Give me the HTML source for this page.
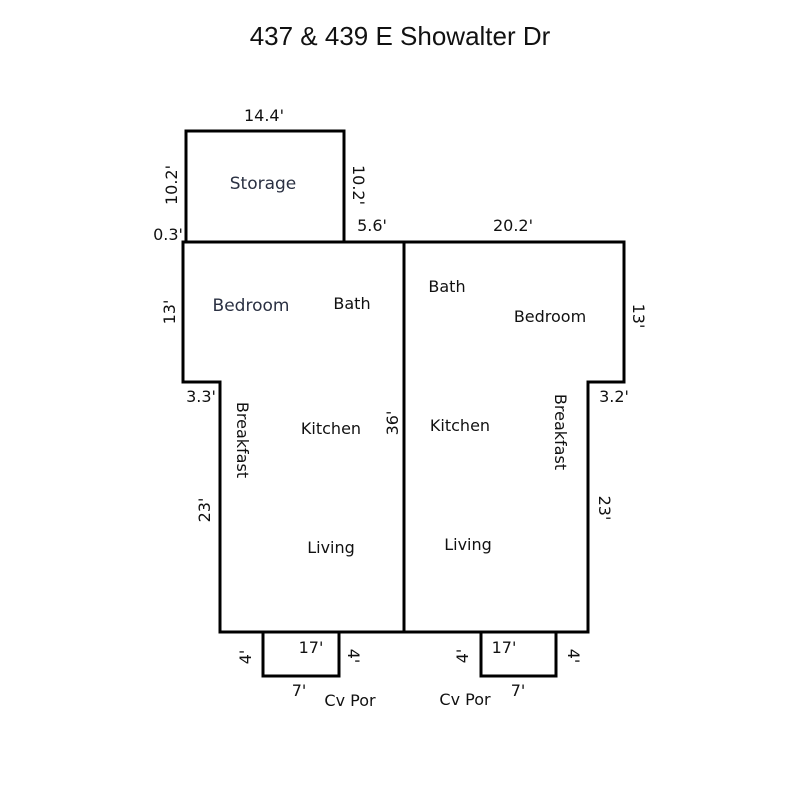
<!DOCTYPE html>
<html><head><style>body{margin:0;background:#fff}svg text{font-family:"DejaVu Sans","Liberation Sans",sans-serif;font-size:16px;fill:#111}</style></head>
<body>
<svg width="800" height="800" xmlns="http://www.w3.org/2000/svg">
<rect width="800" height="800" fill="#fff"/>
<text x="400" y="45" text-anchor="middle" style="font-family:'Liberation Sans',sans-serif;font-size:26px">437 &amp; 439 E Showalter Dr</text>
<g fill="none" stroke="#000" stroke-width="3">
<rect x="186" y="131" width="158" height="111"/>
<path d="M183 242 H624 V382 H588 V632 H220 V382 H183 Z"/>
<line x1="404" y1="242" x2="404" y2="632"/>
<path d="M263 632 V676 H339 V632"/>
<path d="M481 632 V676 H556 V632"/>
</g>
<g>
<text x="264" y="121" text-anchor="middle">14.4'</text>
<text x="263" y="189" text-anchor="middle" style="font-size:17px;fill:#2a3042">Storage</text>
<text x="168" y="240" text-anchor="middle">0.3'</text>
<text x="372" y="231" text-anchor="middle">5.6'</text>
<text x="513" y="231" text-anchor="middle">20.2'</text>
<text x="251" y="311" text-anchor="middle" style="font-size:17px;fill:#2a3042">Bedroom</text>
<text x="352" y="309" text-anchor="middle">Bath</text>
<text x="447" y="292" text-anchor="middle">Bath</text>
<text x="550" y="322" text-anchor="middle">Bedroom</text>
<text x="201" y="402" text-anchor="middle">3.3'</text>
<text x="614" y="402" text-anchor="middle">3.2'</text>
<text x="331" y="434" text-anchor="middle">Kitchen</text>
<text x="460" y="431" text-anchor="middle">Kitchen</text>
<text x="331" y="553" text-anchor="middle">Living</text>
<text x="468" y="550" text-anchor="middle">Living</text>
<text x="311" y="653" text-anchor="middle">17'</text>
<text x="504" y="653" text-anchor="middle">17'</text>
<text x="299" y="696" text-anchor="middle">7'</text>
<text x="518" y="696" text-anchor="middle">7'</text>
<text x="350" y="706" text-anchor="middle">Cv Por</text>
<text x="465" y="705" text-anchor="middle">Cv Por</text>
<text transform="translate(177,185) rotate(-90)" text-anchor="middle">10.2'</text>
<text transform="translate(175,312) rotate(-90)" text-anchor="middle">13'</text>
<text transform="translate(210,510) rotate(-90)" text-anchor="middle">23'</text>
<text transform="translate(398,423) rotate(-90)" text-anchor="middle">36'</text>
<text transform="translate(251,657) rotate(-90)" text-anchor="middle">4'</text>
<text transform="translate(468,656) rotate(-90)" text-anchor="middle">4'</text>
<text transform="translate(353,185) rotate(90)" text-anchor="middle">10.2'</text>
<text transform="translate(633,316) rotate(90)" text-anchor="middle">13'</text>
<text transform="translate(599,508) rotate(90)" text-anchor="middle">23'</text>
<text transform="translate(237,440) rotate(90)" text-anchor="middle">Breakfast</text>
<text transform="translate(555,432) rotate(90)" text-anchor="middle">Breakfast</text>
<text transform="translate(348,656) rotate(90)" text-anchor="middle">4'</text>
<text transform="translate(568,656) rotate(90)" text-anchor="middle">4'</text>
</g>
</svg>
</body></html>
